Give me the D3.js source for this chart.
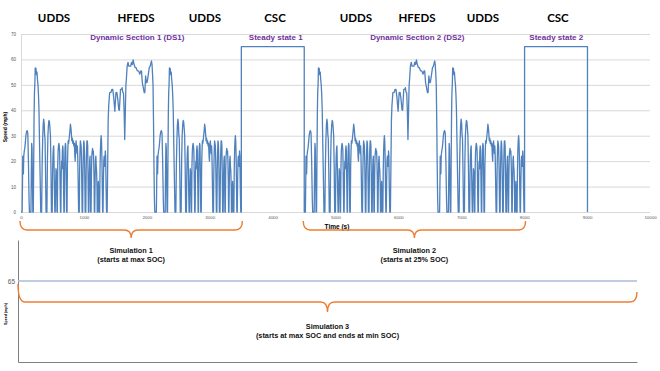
<!DOCTYPE html>
<html lang="en">
<head>
<meta charset="UTF-8" />
<title>Drive cycles</title>
<script src="https://d3js.org/d3.v7.min.js"></script>
<style>
  body { margin: 0; background: #fff; }
  svg { display: block; font-family: "Liberation Sans", Arial, sans-serif; }
  .cycle { font-family: Lato, "Open Sans", sans-serif; font-weight: bold; font-size: 11.5px; fill: #000; }
  .section { font-weight: bold; font-size: 8px; fill: #7030a0; }
  .sim { font-weight: bold; font-size: 7.3px; fill: #111; }
  .tick text { fill: #595959; }
</style>
</head>
<body>
<svg id="chart" width="660" height="371"></svg>
<script>
// UDDS speed trace: [time (s), speed (mph)]
const udds = [
  [0,0],[18,0],[24,12],[28,22],[32,18],[38,15],[44,22],[52,24],[60,25],[68,27],[78,30],[88,31.5],[98,32],[108,31],[118,20],[128,5],[134,0],
  [158,0],[164,15],[170,27],[176,25],[182,12],[188,0],
  [196,0],[202,20],[208,38],[214,47],[220,50],[226,56.7],[232,55],[238,56.5],[246,54],[254,55],[262,52],[270,50],[278,46],[286,40],[294,28],[304,14],[314,0],
  [328,0],[336,18],[344,28],[352,34],[360,36.5],[368,35],[376,30],[382,29],[390,16],[398,0],
  [412,0],[420,20],[428,30],[436,34],[444,36],[452,35.5],[460,33],[468,30],[476,18],[484,0],
  [496,0],[502,15],[508,22],[514,25],[520,26],[526,18],[532,8],[538,0],
  [544,0],[550,10],[556,17],[562,16],[568,10],[572,0],
  [578,0],[584,18],[590,24],[596,26],[602,27],[608,26],[614,24],[620,14],[628,0],
  [634,0],[640,15],[646,20],[652,17],[658,24],[664,26],[670,24],[676,12],[682,0],
  [688,0],[694,18],[700,25],[706,27],[712,26],[718,14],[724,0],
  [732,0],[738,18],[744,24],[750,28],[756,27],[762,28],[770,30],[778,32],[786,34.5],[794,33],[800,31],[808,28],[816,29],[824,27],[832,28],[840,26],[848,27],[856,22],[862,20],[868,26],[876,28],[884,25],[890,23],[896,26],[902,22],[910,10],[916,0],
  [926,0],[932,16],[938,24],[944,28],[950,27],[956,26],[962,20],[968,8],[972,0],
  [980,0],[986,16],[992,24],[998,28],[1004,27],[1010,22],[1016,10],[1020,0],
  [1030,0],[1036,16],[1042,24],[1048,28],[1054,28],[1060,26],[1066,14],[1072,0],
  [1080,0],[1086,14],[1092,20],[1098,22],[1104,10],[1108,0],
  [1114,0],[1120,15],[1126,22],[1132,24],[1138,25],[1144,23],[1150,24],[1156,20],[1162,12],[1166,0],
  [1172,0],[1178,12],[1184,20],[1190,22],[1196,18],[1202,16],[1208,10],[1212,0],
  [1220,0],[1224,8],[1230,12],[1236,8],[1242,0],
  [1250,0],[1256,16],[1262,24],[1268,28],[1274,30],[1280,28],[1286,22],[1292,10],[1298,0],
  [1304,0],[1310,12],[1316,20],[1322,22],[1328,21],[1334,18],[1340,24],[1346,22],[1352,10],[1360,0],[1369,0]
];

// HFEDS speed trace: [time (s), speed (mph)]
const hfeds = [
  [0,0],[1,0],[10,20],[17,36],[25,41.6],[40,46.9],[60,47],[75,48.2],[90,48.2],[105,45],[123,39.6],[140,46.9],[155,47],[170,44.3],
  [185,40.3],[195,40],[213,48.2],[230,48.2],[239,48.9],[250,47],[260,46.9],[270,40],[280,28.5],[290,40],[298,49.5],[308,53],
  [319,57.4],[332,58.8],[345,57.4],[360,57.4],[375,57.4],[388,58.8],[400,58],[414,59.8],[428,58.1],[445,56.8],[460,56.8],
  [480,55.5],[500,55.5],[520,54.2],[535,55.5],[546,55.5],[560,50.9],[575,48.9],[590,46.9],[600,47],[612,53.5],[625,50.9],
  [636,51],[652,53.5],[670,56.8],[685,57.4],[705,59.4],[714,58],[721,54.8],[730,50],[738,35],[745,18],[752,5],[758,0],[765,0]
];

// CSC steady state at 65 mph
const csc = [[0,0],[0,65],[1000,65],[1000,0]];

const cycleNames  = ["UDDS", "HFEDS", "UDDS", "CSC", "UDDS", "HFEDS", "UDDS", "CSC"];
const cycleStarts = [0, 1369, 2134, 3503, 4503, 5872, 6637, 8006];
const cycleLabelAt = [525, 1828, 2925, 4038, 5326, 6296, 7345, 8537];

const sectionNames = ["Dynamic Section 1 (DS1)", "Steady state 1", "Dynamic Section 2 (DS2)", "Steady state 2"];
const sectionAt    = [1850, 4050, 6300, 8510];

const xTicks = [0, 1000, 2000, 3000, 4000, 5000, 6000, 7000, 8000, 9000, 10000];
const yTicks = [0, 10, 20, 30, 40, 50, 60, 70];

const simTitles = ["Simulation 1", "Simulation 2", "Simulation 3"];
const simNotes  = ["(starts at max SOC)", "(starts at 25% SOC)", "(starts at max SOC and ends at min SOC)"];
const simRanges = [[0, 3503], [4503, 8006]];

const sim3Speed = 65;

const traces = { UDDS: udds, HFEDS: hfeds, CSC: csc };
const series = cycleNames.flatMap((n, i) => traces[n].map(([t, v]) => ({ t: t + cycleStarts[i], v })));

const svg = d3.select("#chart");
const orange = "#ed7d31";

// ---- top chart ----
const x = d3.scaleLinear().domain([0, 10000]).range([21, 650]);
const y = d3.scaleLinear().domain([0, 70]).range([212, 34]);

const yAxis = svg.append("g")
  .attr("transform", `translate(${x(0)},0)`)
  .call(d3.axisLeft(y).tickValues(yTicks).tickSize(-(x(10000) - x(0))).tickPadding(5));
yAxis.select(".domain").attr("stroke", "#d9d9d9");
yAxis.selectAll(".tick line").attr("stroke", "#d9d9d9");
yAxis.selectAll(".tick text").attr("font-size", 4.6);

const xAxis = svg.append("g")
  .attr("transform", `translate(0,${y(0)})`)
  .call(d3.axisBottom(x).tickValues(xTicks).tickFormat(d3.format("d")).tickSize(0).tickPadding(4));
xAxis.select(".domain").remove();
xAxis.selectAll(".tick text").attr("font-size", 4.4);

svg.append("path")
  .datum(series)
  .attr("fill", "none")
  .attr("stroke", "#4f81bd")
  .attr("stroke-width", 1.3)
  .attr("stroke-linejoin", "round")
  .attr("d", d3.line().x(d => x(d.t)).y(d => y(d.v)));

svg.append("text")
  .attr("transform", `translate(7,${(y(0) + y(70)) / 2 + 4}) rotate(-90)`)
  .attr("text-anchor", "middle")
  .attr("font-weight", "bold")
  .attr("font-size", 5)
  .text("Speed (mph)");

svg.append("text")
  .attr("x", 337).attr("y", 229)
  .attr("text-anchor", "middle")
  .attr("font-weight", "bold")
  .attr("font-size", 6.5)
  .text("Time (s)");

svg.selectAll(".cycle").data(cycleNames).join("text")
  .attr("class", "cycle")
  .attr("x", (d, i) => x(cycleLabelAt[i]))
  .attr("y", 22)
  .attr("text-anchor", "middle")
  .text(d => d);

svg.selectAll(".section").data(sectionNames).join("text")
  .attr("class", "section")
  .attr("x", (d, i) => x(sectionAt[i]))
  .attr("y", 40)
  .attr("text-anchor", "middle")
  .text(d => d);

// curly brace path
function brace(xa, xb, yTipA, yTipB, yBar, yPoint) {
  const xc = (xa + xb) / 2, r = 7;
  return `M${xa},${yTipA} Q${xa},${yBar} ${xa + r},${yBar} L${xc - r},${yBar} Q${xc},${yBar} ${xc},${yPoint}` +
         ` Q${xc},${yBar} ${xc + r},${yBar} L${xb - r},${yBar} Q${xb},${yBar} ${xb},${yTipB}`;
}

simRanges.forEach((r, i) => {
  const xa = x(r[0]) - 1, xb = x(r[1]) + 1;
  svg.append("path")
    .attr("d", brace(xa, xb, 221, 221, 230, 238))
    .attr("fill", "none").attr("stroke", orange).attr("stroke-width", 1.4);
  const cx = (xa + xb) / 2;
  svg.append("text").attr("class", "sim").attr("x", cx).attr("y", 253).attr("text-anchor", "middle").text(simTitles[i]);
  svg.append("text").attr("class", "sim").attr("x", cx).attr("y", 262).attr("text-anchor", "middle").text(simNotes[i]);
});

// ---- bottom chart (Simulation 3) ----
const x2 = d3.scaleLinear().domain([0, 1]).range([18, 637]);
const y2 = d3.scaleLinear().domain([0, 98]).range([362, 240]);

const y2Axis = svg.append("g")
  .attr("transform", `translate(${x2(0)},0)`)
  .call(d3.axisLeft(y2).tickValues([sim3Speed]).tickSize(0).tickPadding(3).tickSizeOuter(0));
y2Axis.select(".domain").attr("stroke", "#7f7f7f");
y2Axis.selectAll(".tick text").attr("font-size", 6.5);

const x2Axis = svg.append("g")
  .attr("transform", `translate(0,${y2(0)})`)
  .call(d3.axisBottom(x2).tickValues([]).tickSizeOuter(0));
x2Axis.select(".domain").attr("stroke", "#7f7f7f");

svg.append("path")
  .datum([{ t: 0, v: sim3Speed }, { t: 1, v: sim3Speed }])
  .attr("fill", "none")
  .attr("stroke", "#a9bcd9")
  .attr("stroke-width", 1.5)
  .attr("d", d3.line().x(d => x2(d.t)).y(d => y2(d.v)));

svg.append("text")
  .attr("transform", `translate(7,314) rotate(-90)`)
  .attr("text-anchor", "middle")
  .attr("font-weight", "bold")
  .attr("font-size", 3.6)
  .text("Speed (mph)");

svg.append("path")
  .attr("d", brace(x2(0), x2(1), 284, 292, 302, 312))
  .attr("fill", "none").attr("stroke", orange).attr("stroke-width", 1.4);

svg.append("text").attr("class", "sim").attr("x", (x2(0) + x2(1)) / 2).attr("y", 329).attr("text-anchor", "middle").text(simTitles[2]);
svg.append("text").attr("class", "sim").attr("x", (x2(0) + x2(1)) / 2).attr("y", 338).attr("text-anchor", "middle").text(simNotes[2]);
</script>
</body>
</html>
